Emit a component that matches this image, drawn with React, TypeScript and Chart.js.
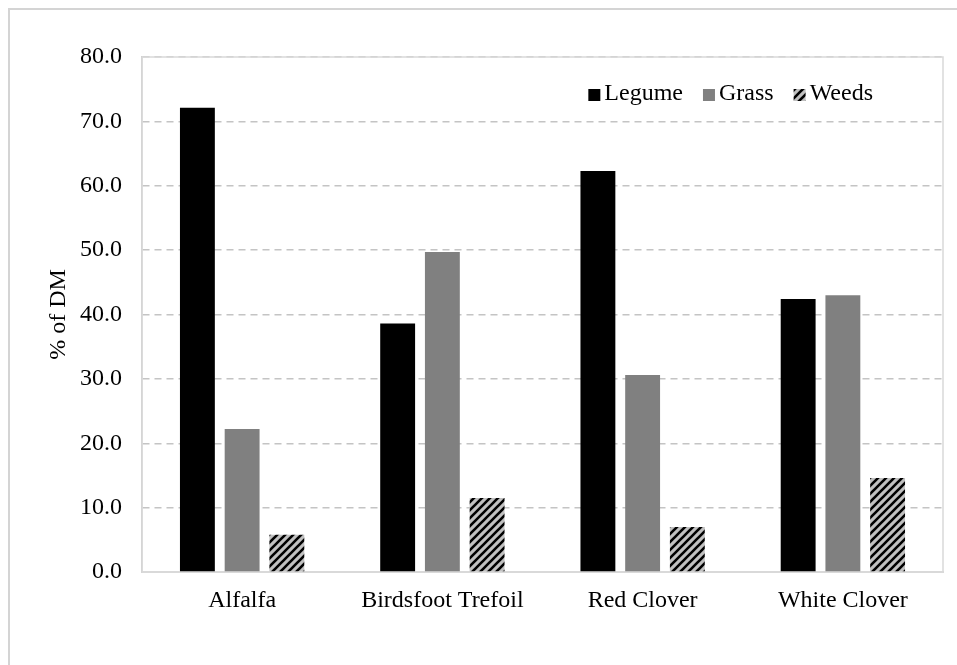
import React, { useEffect, useRef } from "react";
import { Chart, registerables } from "chart.js";

Chart.register(...registerables);

const categories = ["Alfalfa", "Birdsfoot Trefoil", "Red Clover", "White Clover"];
const seriesNames = ["Legume", "Grass", "Weeds"];
const legumeValues = [72.1, 38.6, 62.3, 42.4];
const grassValues = [22.2, 49.7, 30.6, 43.0];
const weedsValues = [5.8, 11.5, 7.0, 14.6];
const yMin = 0;
const yMax = 80;
const yStep = 10;
const yTitle = "% of DM";

const FONT = "'Liberation Serif', 'Times New Roman', serif";

function makeHatch(ctx: CanvasRenderingContext2D): CanvasPattern | string {
  const size = 8;
  const tile = document.createElement("canvas");
  tile.width = size;
  tile.height = size;
  const g = tile.getContext("2d");
  if (!g) return "#c0c0c0";
  g.fillStyle = "#c0c0c0";
  g.fillRect(0, 0, size, size);
  g.strokeStyle = "#000000";
  g.lineWidth = 2.6;
  g.beginPath();
  g.moveTo(-2, size + 2);
  g.lineTo(size + 2, -2);
  g.moveTo(-2, 2);
  g.lineTo(2, -2);
  g.moveTo(size - 2, size + 2);
  g.lineTo(size + 2, size - 2);
  g.stroke();
  const p = ctx.createPattern(tile, "repeat");
  return p || "#c0c0c0";
}

const frameLegendPlugin = {
  id: "frameLegend",
  beforeDatasetsDraw(chart: any) {
    const { ctx, chartArea } = chart;
    ctx.save();
    ctx.strokeStyle = "#d9d9d9";
    ctx.lineWidth = 1.5;
    ctx.strokeRect(chartArea.left, chartArea.top, chartArea.right - chartArea.left, chartArea.bottom - chartArea.top);
    ctx.restore();
  },
  afterDraw(chart: any) {
    const { ctx, chartArea } = chart;
    ctx.save();
    ctx.font = `24px ${FONT}`;
    ctx.textBaseline = "middle";
    const box = 12;
    const gapBoxText = 4;
    const itemGap = 20;
    const items = chart.data.datasets.map((ds: any) => ({
      label: ds.label,
      fill: ds.backgroundColor,
      w: ctx.measureText(ds.label).width,
    }));
    const total = items.reduce((s: number, it: any) => s + box + gapBoxText + it.w, 0) + itemGap * (items.length - 1);
    let x = chartArea.right - 70 - total;
    const y = chartArea.top + 37;
    items.forEach((it: any) => {
      ctx.fillStyle = it.fill;
      ctx.fillRect(x, y - box / 2 + 1, box, box);
      x += box + gapBoxText;
      ctx.fillStyle = "#000000";
      ctx.fillText(it.label, x, y);
      x += it.w + itemGap;
    });
    ctx.restore();
  },
};

export default function App() {
  const canvasRef = useRef<HTMLCanvasElement | null>(null);

  useEffect(() => {
    const canvas = canvasRef.current;
    if (!canvas) return;
    const ctx = canvas.getContext("2d");
    if (!ctx) return;
    const hatch = makeHatch(ctx);
    const colors: any[] = ["#000000", "#808080", hatch];
    const values = [legumeValues, grassValues, weedsValues];

    const chart = new Chart(canvas, {
      type: "bar",
      data: {
        labels: categories,
        datasets: seriesNames.map((name, i) => ({
          label: name,
          data: values[i],
          backgroundColor: colors[i],
          borderWidth: 0,
          categoryPercentage: 0.67,
          barPercentage: 0.78,
        })),
      },
      options: {
        responsive: false,
        animation: false,
        events: [],
        layout: { padding: { left: 0, top: 47, right: 14, bottom: 0 } },
        plugins: {
          legend: { display: false },
          tooltip: { enabled: false },
        },
        scales: {
          x: {
            grid: { display: false, drawTicks: false },
            border: { display: true, color: "#d9d9d9", width: 2 },
            ticks: { color: "#000000", font: { family: FONT, size: 24 }, padding: 14, maxRotation: 0 },
            afterFit: (scale: any) => {
              scale.height = 93;
            },
          },
          y: {
            min: yMin,
            max: yMax,
            grid: { color: "#c4c4c4", lineWidth: 1.5, drawTicks: false },
            border: { display: true, color: "#c8c8c8", width: 1.5, dash: [7, 5] },
            ticks: {
              stepSize: yStep,
              color: "#000000",
              font: { family: FONT, size: 24 },
              padding: 20,
              callback: (v: any) => Number(v).toFixed(1),
            },
            title: {
              display: true,
              text: yTitle,
              color: "#000000",
              font: { family: FONT, size: 24 },
              padding: { top: 34, bottom: 0 },
            },
            afterFit: (scale: any) => {
              scale.width = 132;
            },
          },
        },
      },
      plugins: [frameLegendPlugin],
    });
    return () => chart.destroy();
  }, []);

  return (
    <div
      style={{
        position: "absolute",
        left: 8,
        top: 8,
        width: 949,
        height: 657,
        borderLeft: "2px solid #d4d4d4",
        borderTop: "2px solid #d4d4d4",
        boxSizing: "border-box",
        overflow: "hidden",
        background: "#ffffff",
      }}
    >
      <canvas ref={canvasRef} width={947} height={655} style={{ display: "block" }} />
    </div>
  );
}
